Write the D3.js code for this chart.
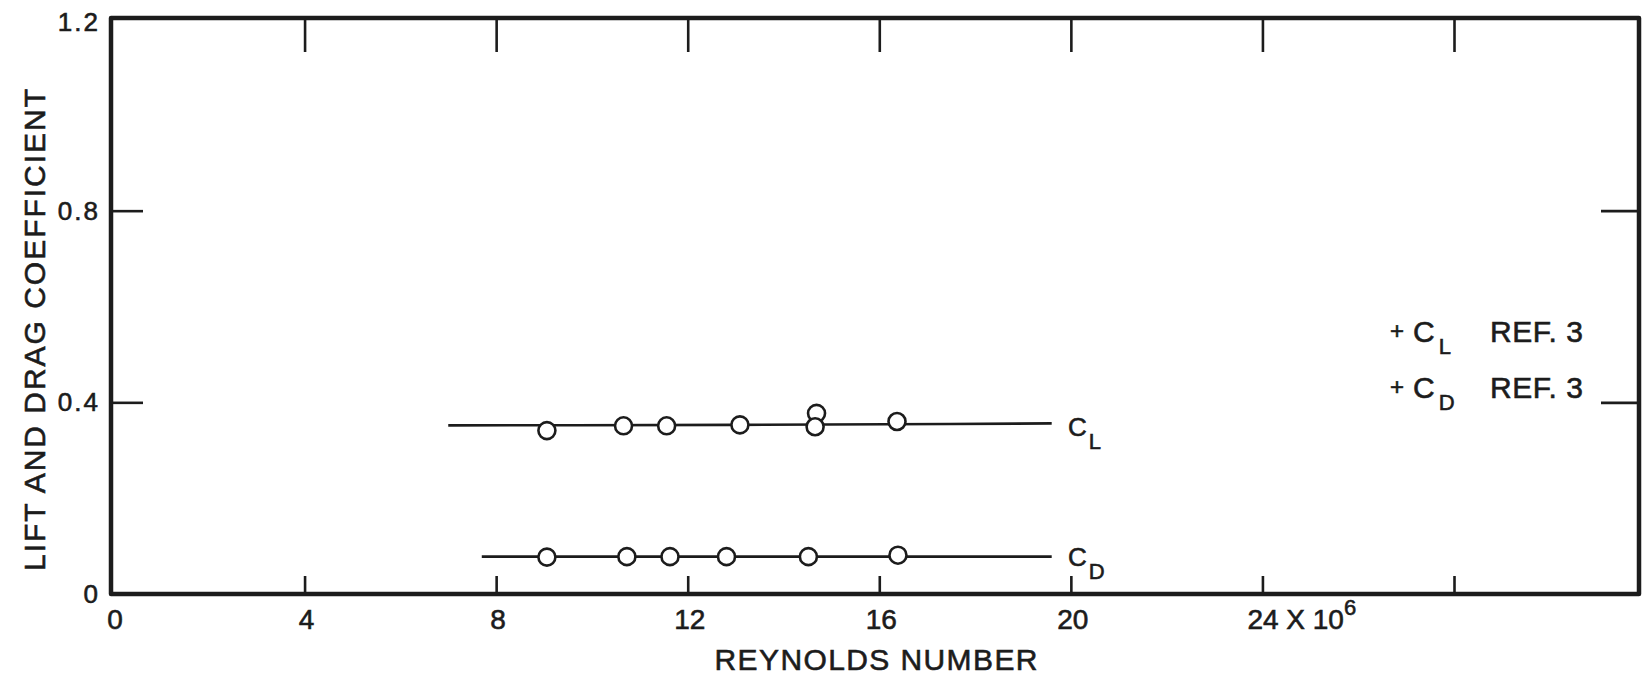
<!DOCTYPE html>
<html>
<head>
<meta charset="utf-8">
<script src="https://cdn.jsdelivr.net/npm/d3@7"></script>
<style>
  body { margin: 0; background: #fff; }
  text { font-family: "Liberation Sans", Arial, sans-serif; fill: #1c1c1c; stroke: #1c1c1c; stroke-width: 0.6px; }
</style>
</head>
<body>
<script>
const W = 1642, H = 682
const ink = '#1c1c1c'

// Reynolds number (x 10^6) and coefficient values
const clRe  = [9.06, 10.66, 11.56, 13.09, 14.69, 14.66, 16.37]
const clVal = [0.341, 0.351, 0.351, 0.353, 0.377, 0.349, 0.360]
const cdRe  = [9.06, 10.73, 11.63, 12.81, 14.52, 16.39]
const cdVal = [0.077, 0.078, 0.078, 0.078, 0.078, 0.081]

// faired curves
const clFitRe  = [7.0, 13.0, 19.6]
const clFitVal = [0.352, 0.353, 0.356]
const cdFitRe  = [7.7, 13.0, 19.6]
const cdFitVal = [0.078, 0.078, 0.078]

const xTicks = [0, 4, 8, 12, 16, 20, 24, 28]
const xTickLabels = ['0', '4', '8', '12', '16', '20', '24', '']
const yTicks = [0, 0.4, 0.8, 1.2]
const yTickLabels = ['0', '0.4', '0.8', '1.2']

const legendMain = ['C', 'C']
const legendSub = ['L', 'D']
const legendRef = ['REF. 3', 'REF. 3']

const x = d3.scaleLinear().domain([0, 28]).range([113, 1454])
const y = d3.scaleLinear().domain([0, 1.2]).range([594, 19])
const frameRight = 1639

const svg = d3.select('body').append('svg')
  .attr('width', W).attr('height', H)
  .style('display', 'block')

svg.append('rect').attr('width', W).attr('height', H).attr('fill', '#fff')

// ticks through d3 axes, domains removed (frame drawn below)
const tickStyle = g => {
  g.select('.domain').remove()
  g.selectAll('.tick line').attr('stroke', ink).attr('stroke-width', 2.6)
  g.selectAll('.tick text').remove()
}
svg.append('g').attr('transform', `translate(0,${y(0)})`)
  .call(d3.axisBottom(x).tickValues(xTicks.slice(1)).tickSize(-18)).call(tickStyle)
svg.append('g').attr('transform', `translate(0,${y(1.2)})`)
  .call(d3.axisTop(x).tickValues(xTicks.slice(1)).tickSize(-33)).call(tickStyle)
svg.append('g').attr('transform', `translate(${x(0) - 2},0)`)
  .call(d3.axisLeft(y).tickValues([0.4, 0.8]).tickSize(-32)).call(tickStyle)
svg.append('g').attr('transform', `translate(${frameRight},0)`)
  .call(d3.axisRight(y).tickValues([0.4, 0.8]).tickSize(-38)).call(tickStyle)

// frame
svg.append('rect')
  .attr('x', x(0) - 2).attr('y', y(1.2) - 1)
  .attr('width', frameRight - x(0) + 2).attr('height', y(0) - y(1.2) + 1)
  .attr('fill', 'none').attr('stroke', ink).attr('stroke-width', 4.5)
  .attr('stroke-linejoin', 'round')

// x tick labels
xTicks.forEach((v, i) => {
  if (!xTickLabels[i]) return
  if (v === 24) {
    const t = svg.append('text').attr('x', x(v) - 15).attr('y', 629)
      .attr('font-size', 28)
    t.append('tspan').text('24 X 10')
    t.append('tspan').attr('dy', -14).attr('font-size', 22).text('6')
  } else {
    svg.append('text').attr('x', x(v) + 2).attr('y', 629)
      .attr('text-anchor', 'middle').attr('font-size', 28)
      .text(xTickLabels[i])
  }
})

// y tick labels
yTicks.forEach((v, i) => {
  svg.append('text').attr('x', 100).attr('y', y(v) + (v === 1.2 ? 12 : 9))
    .attr('text-anchor', 'end').attr('font-size', 26)
    .attr('letter-spacing', 2)
    .text(yTickLabels[i])
})

// axis titles
svg.append('text').attr('x', 876).attr('y', 670)
  .attr('text-anchor', 'middle').attr('font-size', 30)
  .attr('textLength', 323).attr('lengthAdjust', 'spacing')
  .text('REYNOLDS NUMBER')
svg.append('text')
  .attr('transform', `translate(45,330) rotate(-90)`)
  .attr('text-anchor', 'middle').attr('font-size', 30)
  .attr('textLength', 482).attr('lengthAdjust', 'spacing')
  .text('LIFT AND DRAG COEFFICIENT')

// faired lines
const line = d3.line().x(d => x(d[0])).y(d => y(d[1])).curve(d3.curveMonotoneX)
svg.append('path').datum(d3.zip(clFitRe, clFitVal)).attr('d', line)
  .attr('fill', 'none').attr('stroke', ink).attr('stroke-width', 2.6)
svg.append('path').datum(d3.zip(cdFitRe, cdFitVal)).attr('d', line)
  .attr('fill', 'none').attr('stroke', ink).attr('stroke-width', 2.6)

// data points
const dots = (re, val) => svg.append('g').selectAll('circle')
  .data(d3.zip(re, val)).join('circle')
  .attr('cx', d => x(d[0])).attr('cy', d => y(d[1])).attr('r', 8.5)
  .attr('fill', '#fff').attr('stroke', ink).attr('stroke-width', 2.6)
dots(clRe, clVal)
dots(cdRe, cdVal)

// curve labels
const curveLabel = (px, py, main, sub) => {
  const t = svg.append('text').attr('x', px).attr('y', py).attr('font-size', 26)
  t.append('tspan').text(main)
  t.append('tspan').attr('dx', 2).attr('dy', 13).attr('font-size', 22).text(sub)
}
curveLabel(1068, 436, 'C', 'L')
curveLabel(1068, 566, 'C', 'D')

// legend
legendMain.forEach((m, i) => {
  const ly = 342 + i * 56
  svg.append('text').attr('x', 1397).attr('y', ly - 3)
    .attr('text-anchor', 'middle').attr('font-size', 24).text('+')
  const t = svg.append('text').attr('x', 1413).attr('y', ly).attr('font-size', 30)
  t.append('tspan').text(m)
  t.append('tspan').attr('dx', 4).attr('dy', 12).attr('font-size', 22).text(legendSub[i])
  svg.append('text').attr('x', 1490).attr('y', ly).attr('font-size', 30)
    .attr('textLength', 93).attr('lengthAdjust', 'spacing')
    .text(legendRef[i])
})
</script>
</body>
</html>
